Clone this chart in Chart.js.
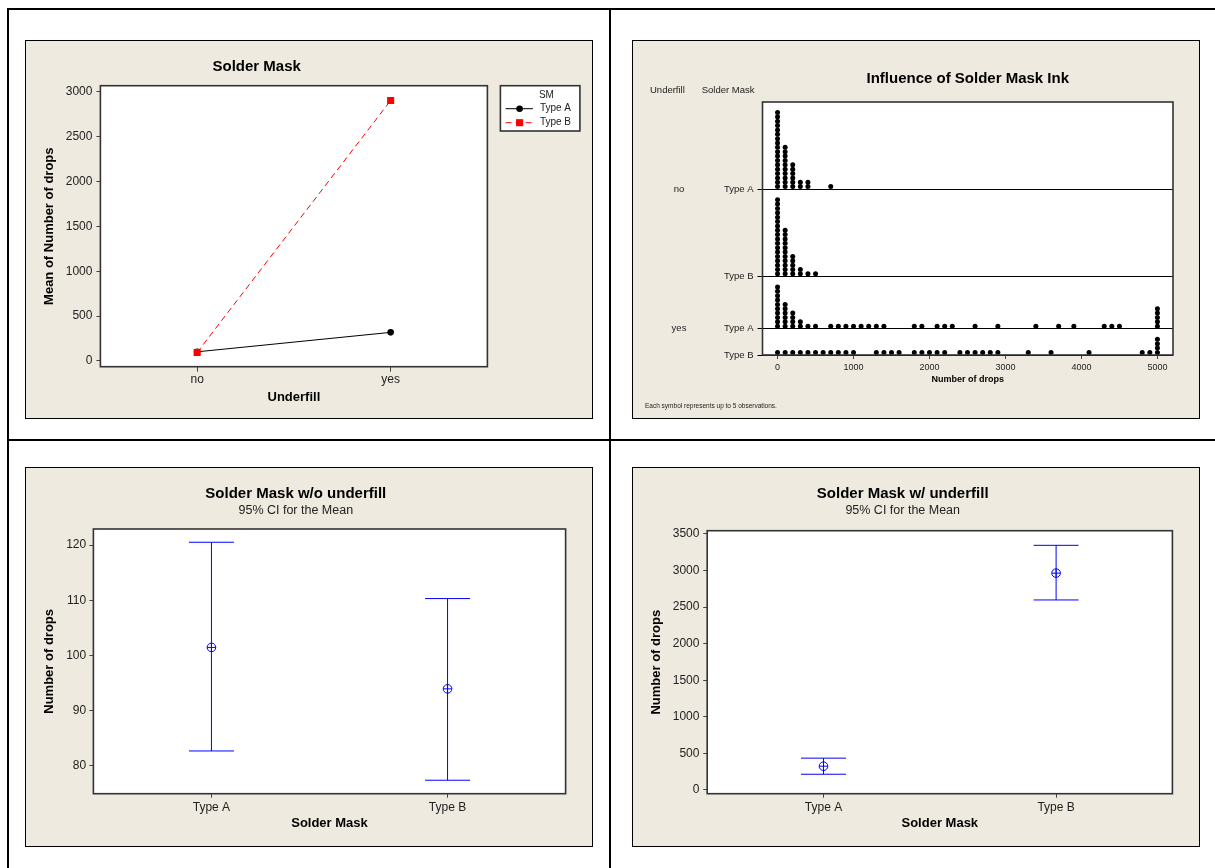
<!DOCTYPE html>
<html>
<head>
<meta charset="utf-8">
<script src="https://cdn.jsdelivr.net/npm/chart.js@4.4.1/dist/chart.umd.min.js"></script>
<style>
  body { margin: 0; background: #fff; width: 1215px; height: 868px; overflow: hidden; position: relative; }
  .rule { position: absolute; background: #000; }
  .panel { position: absolute; border: 1px solid #000; background: #EEEADF; }
  .panel canvas { display: block; }
</style>
</head>
<body>
<div class="rule" style="left:7px;top:8px;width:1208px;height:2px"></div>
<div class="rule" style="left:7px;top:8px;width:2px;height:860px"></div>
<div class="rule" style="left:609px;top:8px;width:2px;height:860px"></div>
<div class="rule" style="left:7px;top:439px;width:1208px;height:2px"></div>

<div class="panel" style="left:25px;top:40px;width:566px;height:377px"><canvas id="interaction" width="566" height="377"></canvas></div>
<div class="panel" style="left:632px;top:40px;width:566px;height:377px"><canvas id="dotplot" width="566" height="377"></canvas></div>
<div class="panel" style="left:25px;top:467px;width:566px;height:378px"><canvas id="ciNo" width="566" height="378"></canvas></div>
<div class="panel" style="left:632px;top:467px;width:566px;height:378px"><canvas id="ciYes" width="566" height="378"></canvas></div>

<script>
// interaction plot: mean number of drops
const underfillLevels = ['no', 'yes'];
const maskTypes = ['Type A', 'Type B'];
const meanTypeA = [101, 318];
const meanTypeB = [94, 2905];
const meanTicks = [0, 500, 1000, 1500, 2000, 2500, 3000];

// dotplot: [number of drops, symbols stacked]
const noTypeA = [[0, 18], [100, 10], [200, 6], [300, 2], [400, 2], [700, 1]];
const noTypeB = [[0, 18], [100, 11], [200, 5], [300, 2], [400, 1], [500, 1]];
const yesTypeA = [[0, 10], [100, 6], [200, 4], [300, 2], [400, 1], [500, 1],
  [700, 1], [800, 1], [900, 1], [1000, 1], [1100, 1], [1200, 1], [1300, 1], [1400, 1],
  [1800, 1], [1900, 1], [2100, 1], [2200, 1], [2300, 1], [2600, 1], [2900, 1],
  [3400, 1], [3700, 1], [3900, 1], [4300, 1], [4400, 1], [4500, 1], [5000, 5]];
const yesTypeB = [[0, 1], [100, 1], [200, 1], [300, 1], [400, 1], [500, 1], [600, 1],
  [700, 1], [800, 1], [900, 1], [1000, 1], [1300, 1], [1400, 1], [1500, 1], [1600, 1],
  [1800, 1], [1900, 1], [2000, 1], [2100, 1], [2200, 1], [2400, 1], [2500, 1], [2600, 1],
  [2700, 1], [2800, 1], [2900, 1], [3300, 1], [3600, 1], [4100, 1], [4800, 1], [4900, 1], [5000, 4]];
const dropTicks = [0, 1000, 2000, 3000, 4000, 5000];

// 95% CI for the mean
const ciNoLow = [82.7, 77.4];
const ciNoMean = [101.45, 93.95];
const ciNoHigh = [120.5, 110.3];
const ciNoTicks = [80, 90, 100, 110, 120];
const ciYesLow = [215, 2598];
const ciYesMean = [325, 2965];
const ciYesHigh = [435, 3345];
const ciYesTicks = [0, 500, 1000, 1500, 2000, 2500, 3000, 3500];

const FONT = "'Liberation Sans', Arial, sans-serif";
const TXT = '#222';
const BLUE = '#0000FF';
Chart.defaults.font.family = FONT;
Chart.defaults.color = TXT;

const frame = {
  id: 'frame',
  beforeDraw(chart) {
    const { ctx, chartArea: a } = chart;
    ctx.save();
    ctx.fillStyle = '#EEEADF';
    ctx.fillRect(0, 0, chart.width, chart.height);
    ctx.fillStyle = '#fff';
    ctx.fillRect(a.left, a.top, a.width, a.height);
    ctx.restore();
  },
  afterDraw(chart) {
    const { ctx, chartArea: a } = chart;
    ctx.save();
    ctx.strokeStyle = '#333';
    ctx.lineWidth = 1.6;
    ctx.strokeRect(a.left, a.top, a.width, a.height);
    ctx.restore();
  }
};

const setTicks = list => axis => { axis.ticks = list.map(v => ({ value: v })); };
const plain = v => String(v);
const titleFont = { family: FONT, size: 15, weight: 'bold' };
const axisTitleFont = { family: FONT, size: 13, weight: 'bold' };
const tickFont = { family: FONT, size: 12 };
const baseOpts = { responsive: false, animation: false, events: [] };

// ---- Solder Mask (interaction plot)
const smLegend = {
  id: 'smLegend',
  afterDraw(chart) {
    const { ctx, chartArea: a } = chart;
    const x0 = a.right + 13, y0 = a.top, w = 79.5, h = 45.3;
    ctx.save();
    ctx.fillStyle = '#fff';
    ctx.fillRect(x0, y0, w, h);
    ctx.strokeStyle = '#333';
    ctx.lineWidth = 1.6;
    ctx.strokeRect(x0, y0, w, h);
    ctx.font = '10px ' + FONT;
    ctx.fillStyle = TXT;
    ctx.textBaseline = 'middle';
    ctx.textAlign = 'center';
    ctx.fillText('SM', x0 + 46, y0 + 9.3);
    ctx.textAlign = 'left';
    chart.data.datasets.forEach((ds, i) => {
      const y = y0 + 23 + i * 14;
      ctx.strokeStyle = ds.borderColor;
      ctx.lineWidth = 1;
      ctx.setLineDash(ds.borderDash || []);
      ctx.beginPath();
      ctx.moveTo(x0 + 5.2, y);
      ctx.lineTo(x0 + 32.5, y);
      ctx.stroke();
      ctx.setLineDash([]);
      ctx.fillStyle = ds.backgroundColor;
      const mx = x0 + 19.2;
      if (ds.pointStyle === 'rect') {
        const s = ds.pointRadius * Math.SQRT1_2;
        ctx.fillRect(mx - s, y - s, 2 * s, 2 * s);
      } else {
        ctx.beginPath();
        ctx.arc(mx, y, ds.pointRadius, 0, Math.PI * 2);
        ctx.fill();
      }
      ctx.fillStyle = TXT;
      ctx.fillText(ds.label, x0 + 39.5, y);
    });
    ctx.restore();
  }
};

new Chart(document.getElementById('interaction'), {
  type: 'line',
  data: {
    labels: underfillLevels,
    datasets: [
      { label: maskTypes[0], data: meanTypeA, borderColor: '#000', backgroundColor: '#000',
        borderWidth: 1, pointStyle: 'circle', pointRadius: 3.3, pointBorderWidth: 0, order: 2 },
      { label: maskTypes[1], data: meanTypeB, borderColor: '#FF0000', backgroundColor: '#FF0000',
        borderWidth: 1, borderDash: [6, 4], pointStyle: 'rect', pointRadius: 5, pointBorderWidth: 0, order: 1 }
    ]
  },
  options: {
    ...baseOpts,
    layout: { padding: { left: 0, top: 0, right: 104.6, bottom: 13.2 } },
    plugins: {
      legend: { display: false },
      tooltip: { enabled: false },
      title: { display: true, text: 'Solder Mask', color: '#000', font: titleFont, padding: { top: 17, bottom: 9.7 } }
    },
    scales: {
      x: {
        offset: true,
        grid: { offset: false, drawOnChartArea: false, tickLength: 5, color: '#444' },
        border: { display: false },
        ticks: { font: tickFont, color: TXT, padding: 1.1 },
        title: { display: true, text: 'Underfill', color: '#000', font: axisTitleFont, padding: { top: 0, bottom: 0 } },
        afterFit: s => { s.height = 38.1; }
      },
      y: {
        min: -65, max: 3070,
        afterBuildTicks: setTicks(meanTicks),
        grid: { drawOnChartArea: false, tickLength: 4, color: '#444' },
        border: { display: false },
        ticks: { font: tickFont, color: TXT, padding: 4, callback: plain },
        title: { display: true, text: 'Mean of Number of drops', color: '#000', font: axisTitleFont, padding: { top: 16, bottom: 0 } },
        afterFit: s => { s.width = 74.4; }
      }
    }
  },
  plugins: [frame, smLegend]
});

// ---- Influence of Solder Mask Ink (dotplot)
const dotRows = [
  { underfill: underfillLevels[0], mask: maskTypes[0], bins: noTypeA },
  { underfill: underfillLevels[0], mask: maskTypes[1], bins: noTypeB },
  { underfill: underfillLevels[1], mask: maskTypes[0], bins: yesTypeA },
  { underfill: underfillLevels[1], mask: maskTypes[1], bins: yesTypeB }
];
// each row gets its tallest stack plus two symbol levels, stacked bottom-up
let level = 0;
for (let i = dotRows.length - 1; i >= 0; i--) {
  dotRows[i].base = level;
  level += Math.max(...dotRows[i].bins.map(b => b[1])) + 2;
}
const dotTop = level;
const dotPoints = [];
dotRows.forEach(r => r.bins.forEach(([drops, n]) => {
  for (let k = 0; k < n; k++) dotPoints.push({ x: drops, y: r.base + 0.6 + k });
}));
const rowLabel = {};
dotRows.forEach(r => { rowLabel[r.base] = r.mask; });

const dotLabels = {
  id: 'dotLabels',
  afterDraw(chart) {
    const { ctx } = chart;
    const y = chart.scales.y;
    ctx.save();
    ctx.fillStyle = TXT;
    ctx.font = '9.5px ' + FONT;
    ctx.textBaseline = 'middle';
    ctx.textAlign = 'left';
    ctx.fillText('Underfill', 17, 49.7);
    ctx.fillText('Solder Mask', 68.7, 49.7);
    ctx.textAlign = 'center';
    let last = null;
    dotRows.forEach(r => {
      if (r.underfill !== last) ctx.fillText(r.underfill, 46, y.getPixelForValue(r.base));
      last = r.underfill;
    });
    ctx.textAlign = 'left';
    ctx.font = '6.5px ' + FONT;
    ctx.fillText('Each symbol represents up to 5 observations.', 12, 365);
    ctx.restore();
  }
};

new Chart(document.getElementById('dotplot'), {
  type: 'scatter',
  data: {
    datasets: [{ data: dotPoints, pointStyle: 'circle', pointRadius: 2.5, pointBorderWidth: 0,
      backgroundColor: '#000', borderColor: '#000' }]
  },
  options: {
    ...baseOpts,
    layout: { padding: { left: 0, top: 0, right: 26, bottom: 32.9 } },
    plugins: {
      legend: { display: false },
      tooltip: { enabled: false },
      title: { display: true, text: 'Influence of Solder Mask Ink', color: '#000', font: titleFont,
        fullSize: false, padding: { top: 29, bottom: 14 } }
    },
    scales: {
      x: {
        type: 'linear', min: -198, max: 5205,
        afterBuildTicks: setTicks(dropTicks),
        grid: { drawOnChartArea: false, tickLength: 4, color: '#444' },
        border: { display: false },
        ticks: { font: { family: FONT, size: 9 }, color: TXT, padding: 3.3, callback: plain },
        title: { display: true, text: 'Number of drops', color: '#000', font: { family: FONT, size: 9, weight: 'bold' }, padding: { top: 0, bottom: 0 } },
        afterFit: s => { s.height = 30.1; }
      },
      y: {
        min: 0, max: dotTop,
        afterBuildTicks: setTicks(dotRows.map(r => r.base)),
        grid: { drawOnChartArea: true, tickLength: 5, color: '#000', lineWidth: 1 },
        border: { display: false },
        ticks: { font: { family: FONT, size: 9.5 }, color: TXT, padding: 4, callback: v => rowLabel[v] },
        afterFit: s => { s.width = 129.5; }
      }
    }
  },
  plugins: [frame, dotLabels]
});

// ---- 95% CI charts
function ciChart(id, title, low, mean, high, ticks, range, dims) {
  const datasets = maskTypes.map((m, i) => ({
    data: [{ x: m, y: low[i] }, { x: m, y: high[i] }],
    borderColor: BLUE, borderWidth: 1,
    pointStyle: 'line', pointRadius: 22.5, pointBorderColor: BLUE, pointBorderWidth: 1
  }));
  const means = mean.map((v, i) => ({ x: maskTypes[i], y: v }));
  datasets.push({ data: means, showLine: false, pointStyle: 'circle', pointRadius: 4.3,
    pointBackgroundColor: 'rgba(0,0,0,0)', pointBorderColor: BLUE, pointBorderWidth: 1 });
  datasets.push({ data: means, showLine: false, pointStyle: 'cross', pointRadius: 4.3,
    pointBorderColor: BLUE, pointBorderWidth: 1 });

  new Chart(document.getElementById(id), {
    type: 'line',
    data: { labels: maskTypes, datasets },
    options: {
      ...baseOpts,
      layout: { padding: { left: 0, top: 0, right: dims.right, bottom: 14.5 } },
      plugins: {
        legend: { display: false },
        tooltip: { enabled: false },
        title: { display: true, text: title, color: '#000', font: titleFont, padding: { top: 17.3, bottom: 0 } },
        subtitle: { display: true, text: '95% CI for the Mean', color: TXT, font: { family: FONT, size: 12.5 },
          padding: { top: 0.2, bottom: dims.sub } }
      },
      scales: {
        x: {
          offset: true,
          grid: { offset: false, drawOnChartArea: false, tickLength: 4, color: '#444' },
          border: { display: false },
          ticks: { font: tickFont, color: TXT, padding: 2.8 },
          title: { display: true, text: 'Solder Mask', color: '#000', font: axisTitleFont, padding: { top: 0, bottom: 0 } },
          afterFit: s => { s.height = 37.8; }
        },
        y: {
          min: range[0], max: range[1],
          afterBuildTicks: setTicks(ticks),
          grid: { drawOnChartArea: false, tickLength: 4, color: '#444' },
          border: { display: false },
          ticks: { font: tickFont, color: TXT, padding: dims.tickPad, callback: plain },
          title: { display: true, text: 'Number of drops', color: '#000', font: axisTitleFont, padding: { top: dims.titlePad, bottom: 0 } },
          afterFit: s => { s.width = dims.width; }
        }
      }
    },
    plugins: [frame]
  });
}

ciChart('ciNo', 'Solder Mask w/o underfill', ciNoLow, ciNoMean, ciNoHigh, ciNoTicks, [74.96, 122.9],
  { right: 26.4, sub: 10.5, tickPad: 3.2, titlePad: 15.6, width: 67.4 });
ciChart('ciYes', 'Solder Mask w/ underfill', ciYesLow, ciYesMean, ciYesHigh, ciYesTicks, [-51, 3545],
  { right: 26.6, sub: 12.2, tickPad: 3.8, titlePad: 15.2, width: 74.2 });
</script>
</body>
</html>
